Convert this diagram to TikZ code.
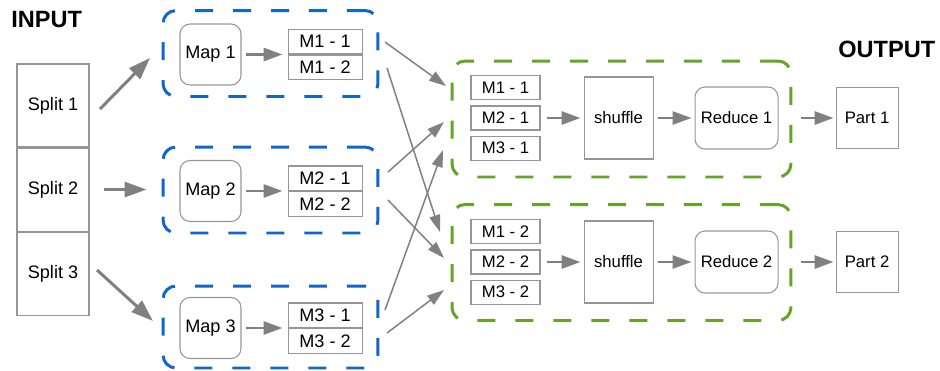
\documentclass[tikz,border=0pt]{standalone}
\usepackage{fontspec}
\setmainfont{Liberation Sans}
\usetikzlibrary{positioning, arrows.meta}

\definecolor{mapblue}{RGB}{17,102,204}
\definecolor{redgreen}{RGB}{100,165,40}
\definecolor{linegray}{RGB}{128,128,128}
\definecolor{boxgray}{RGB}{150,150,150}

\tikzset{
  cell/.style={rectangle, draw=boxgray, line width=0.6pt, inner sep=0pt},
  leftfont/.style={font=\fontsize{10.3}{12}\selectfont},
  rightfont/.style={font=\fontsize{9.5}{11}\selectfont},
  splitbox/.style={cell, leftfont, minimum width=1.44cm, minimum height=1.66cm},
  mapbox/.style={cell, leftfont, rounded corners=0.2cm, minimum width=1.22cm, minimum height=1.22cm},
  mcell/.style={cell, leftfont, minimum width=1.48cm, minimum height=0.49cm},
  rcell/.style={cell, rightfont, minimum width=1.38cm, minimum height=0.48cm},
  shufflebox/.style={cell, rightfont, minimum width=1.38cm, minimum height=1.64cm},
  reducebox/.style={cell, rightfont, rounded corners=0.2cm, minimum width=1.66cm, minimum height=1.24cm},
  partbox/.style={cell, rightfont, minimum width=1.24cm, minimum height=1.22cm},
  dashbox/.style={rectangle, line width=1.7pt, dash pattern=on 0.36cm off 0.4cm, rounded corners=0.26cm},
  mapper/.style={dashbox, draw=mapblue, minimum width=4.3cm, minimum height=1.72cm},
  reducer/.style={dashbox, draw=redgreen, minimum width=6.78cm, minimum height=2.32cm},
  flow/.style={draw=linegray, line width=1.6pt, -{Triangle[length=0.38cm, width=0.26cm]}},
  bigflow/.style={draw=linegray, line width=1.7pt, -{Triangle[length=0.44cm, width=0.3cm]}},
  crossflow/.style={draw=linegray, line width=0.85pt, -{Triangle[length=0.34cm, width=0.22cm]}},
  heading/.style={font=\fontsize{13.4}{16}\selectfont\bfseries, inner sep=0pt, anchor=west}
}

\begin{document}
\begin{tikzpicture}[x=0.02cm, y=-0.02cm]
  \useasboundingbox (0,0) rectangle (940,370);

  \node[heading] (input) at (11,20) {INPUT};
  \node[heading] (output) at (838,49) {OUTPUT};

  % input splits
  \node[splitbox] (split1) at (53,105.5) {Split 1};
  \node[splitbox] (split2) [below=0cm of split1] {Split 2};
  \node[splitbox] (split3) [below=0cm of split2] {Split 3};

  % map stage
  \node[mapper] (mapper1) at (270.5,53.5) {};
  \node[mapper] (mapper2) at (270.5,190) {};
  \node[mapper, minimum height=1.64cm] (mapper3) at (270.5,327) {};

  \node[mapbox] (map1) at (210.5,54.5) {Map 1};
  \node[mapbox] (map2) at (210.5,191) {Map 2};
  \node[mapbox] (map3) at (210.5,328) {Map 3};

  \node[mcell] (m11) [right=0.92cm of map1.east, anchor=south west] {M1 - 1};
  \node[mcell] (m12) [below=0cm of m11] {M1 - 2};
  \node[mcell] (m21) [right=0.92cm of map2.east, anchor=south west] {M2 - 1};
  \node[mcell] (m22) [below=0cm of m21] {M2 - 2};
  \node[mcell] (m31) [right=0.92cm of map3.east, anchor=south west] {M3 - 1};
  \node[mcell] (m32) [below=0cm of m31] {M3 - 2};

  % reduce stage
  \node[reducer] (reducer1) at (621.5,119) {};
  \node[reducer] (reducer2) at (621.5,262.5) {};

  \node[rcell] (r21) at (505.5,118) {M2 - 1};
  \node[rcell] (r11) [above=0.1cm of r21] {M1 - 1};
  \node[rcell] (r31) [below=0.1cm of r21] {M3 - 1};
  \node[shufflebox] (shuffle1) [right=0.86cm of r21] {shuffle};
  \node[reducebox] (reduce1) [right=0.82cm of shuffle1] {Reduce 1};
  \node[partbox] (part1) [right=1.14cm of reduce1] {Part 1};

  \node[rcell] (r22) at (505.5,262) {M2 - 2};
  \node[rcell] (r12) [above=0.1cm of r22] {M1 - 2};
  \node[rcell] (r32) [below=0.1cm of r22] {M3 - 2};
  \node[shufflebox] (shuffle2) [right=0.86cm of r22] {shuffle};
  \node[reducebox] (reduce2) [right=0.82cm of shuffle2] {Reduce 2};
  \node[partbox] (part2) [right=1.14cm of reduce2] {Part 2};

  % ends of the free arrows
  \coordinate (out1) at (100,109);
  \coordinate (in1) at (150,58);
  \coordinate (out3) at (97,270);
  \coordinate (in3) at (153,321);
  \coordinate (p11) at (385,42);  \coordinate (q11) at (446,86);
  \coordinate (p12) at (387,68);  \coordinate (q12) at (440,232);
  \coordinate (p21) at (388,172); \coordinate (q21) at (444,122);
  \coordinate (p22) at (388,200); \coordinate (q22) at (444,258);
  \coordinate (p31) at (385,310); \coordinate (q31) at (443,150);
  \coordinate (p32) at (387,333); \coordinate (q32) at (444,290);

  \draw[bigflow] (out1) -- (in1);
  \draw[bigflow, shorten <=0.28cm, shorten >=0.3cm] (split2.east) -- (split2.east -| mapper2.west);
  \draw[bigflow] (out3) -- (in3);
  \foreach \i in {1,2,3}
    \draw[flow, shorten <=0.08cm, shorten >=0.1cm] (map\i.east) -- (m\i1.south west);

  \foreach \k in {1,2} {
    \draw[flow, shorten <=0.12cm, shorten >=0.06cm] (r2\k.east) -- (shuffle\k.west);
    \draw[flow, shorten <=0.08cm, shorten >=0.06cm] (shuffle\k.east) -- (reduce\k.west);
    \draw[flow, shorten <=0.44cm, shorten >=0.04cm] (reduce\k.east) -- (part\k.west);
  }

  \foreach \i in {1,2,3}
    \foreach \j in {1,2}
      \draw[crossflow] (p\i\j) -- (q\i\j);
\end{tikzpicture}
\end{document}
